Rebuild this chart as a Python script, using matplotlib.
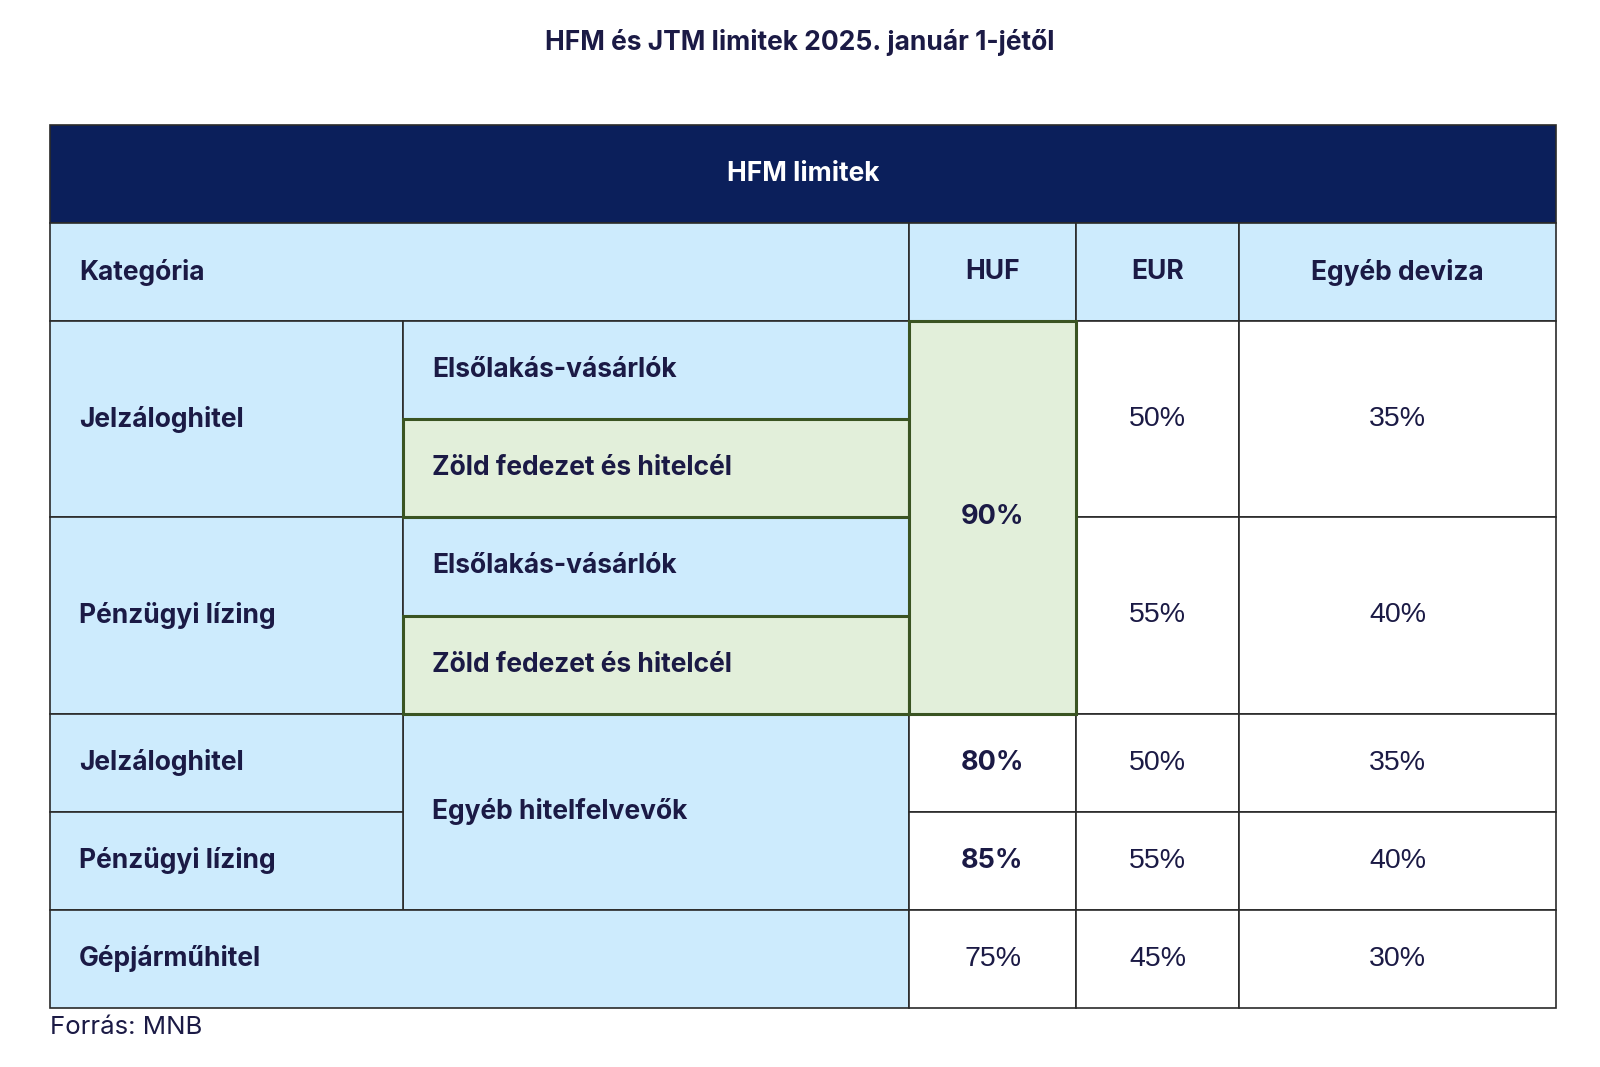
import matplotlib
matplotlib.use("Agg")
import matplotlib.pyplot as plt
from matplotlib.patches import Rectangle

# table content
title = "HFM és JTM limitek 2025. január 1-jétől"
band_title = "HFM limitek"
columns = ["Kategória", "HUF", "EUR", "Egyéb deviza"]
categories = ["Jelzáloghitel", "Pénzügyi lízing"]
sub_first = "Elsőlakás-vásárlók"
sub_green = "Zöld fedezet és hitelcél"
huf_green = "90%"
eur_green = ["50%", "55%"]
dev_green = ["35%", "40%"]
other_label = "Egyéb hitelfelvevők"
huf_other = ["80%", "85%"]
eur_other = ["50%", "55%"]
dev_other = ["35%", "40%"]
car_label = "Gépjárműhitel"
car_values = ["75%", "45%", "30%"]
source = "Forrás: MNB"

# colours
NAVY = "#0b1f5b"
BLUE = "#cdebfd"
GREEN = "#e2efda"
GREEN_EDGE = "#3a5422"
LINE = "#2a2a2a"
TXT = "#1b1a45"

# layout (pixels)
W, H = 1600, 1067
cx = [50, 403, 909, 1076, 1239, 1556]
top = 125
rh = 98.1
ry = [top + rh * i for i in range(10)]   # band, header, 8 body rows
LABEL_PAD = 29

fig = plt.figure(figsize=(W / 100, H / 100), dpi=100)
ax = fig.add_axes([0, 0, 1, 1])
ax.set_xlim(0, W)
ax.set_ylim(H, 0)
ax.axis("off")


def cell(x0, x1, y0, y1, fill, text="", edge=LINE, lw=1.2, bold=True,
         align="center", color=TXT, size=19, z=1):
    ax.add_patch(Rectangle((x0, y0), x1 - x0, y1 - y0, facecolor=fill,
                           edgecolor=edge, linewidth=lw, zorder=z))
    if not text:
        return
    if align == "left":
        tx = x0 + LABEL_PAD
    else:
        tx = (x0 + x1) / 2
    if bold:
        ax.text(tx, (y0 + y1) / 2, text, ha=align, va="center", color=color,
                fontsize=size, fontweight="bold", family="Inter", zorder=z + 1)
    else:
        ax.text(tx, (y0 + y1) / 2, text, ha=align, va="center", color=color,
                fontsize=20.5, family="Liberation Sans", zorder=z + 1)


# title
ax.text(W / 2, 42, title, ha="center", va="center", color=TXT,
        fontsize=19, fontweight="bold", family="Inter")

# dark band
cell(cx[0], cx[5], ry[0], ry[1], NAVY, band_title, color="white")

# header row
cell(cx[0], cx[2], ry[1], ry[2], BLUE, columns[0], align="left")
for i, name in enumerate(columns[1:]):
    cell(cx[2 + i], cx[3 + i], ry[1], ry[2], BLUE, name)

# first-home / green blocks (two rows each)
for k, cat in enumerate(categories):
    y0 = ry[2 + 2 * k]
    y1 = ry[4 + 2 * k]
    cell(cx[0], cx[1], y0, y1, BLUE, cat, align="left")
    cell(cx[1], cx[2], y0, ry[3 + 2 * k], BLUE, sub_first, align="left")
    cell(cx[3], cx[4], y0, y1, "white", eur_green[k], bold=False)
    cell(cx[4], cx[5], y0, y1, "white", dev_green[k], bold=False)

# other borrowers
cell(cx[1], cx[2], ry[6], ry[8], BLUE, other_label, align="left")
for k, cat in enumerate(categories):
    y0, y1 = ry[6 + k], ry[7 + k]
    cell(cx[0], cx[1], y0, y1, BLUE, cat, align="left")
    cell(cx[2], cx[3], y0, y1, "white", huf_other[k], size=19.5)
    cell(cx[3], cx[4], y0, y1, "white", eur_other[k], bold=False)
    cell(cx[4], cx[5], y0, y1, "white", dev_other[k], bold=False)

# car loans
cell(cx[0], cx[2], ry[8], ry[9], BLUE, car_label, align="left")
for i, v in enumerate(car_values):
    cell(cx[2 + i], cx[3 + i], ry[8], ry[9], "white", v, bold=False)

# green cells on top so their borders show
for k in range(len(categories)):
    cell(cx[1], cx[2], ry[3 + 2 * k], ry[4 + 2 * k], GREEN, sub_green,
         edge=GREEN_EDGE, lw=2.2, align="left", z=3)
cell(cx[2], cx[3], ry[2], ry[6], GREEN, huf_green, edge=GREEN_EDGE, lw=2.2,
     size=19.5, z=3)

ax.text(cx[0], 1028, source, ha="left", va="center", color=TXT,
        fontsize=18.6, family="Inter")

fig.savefig("out.png", dpi=100)
